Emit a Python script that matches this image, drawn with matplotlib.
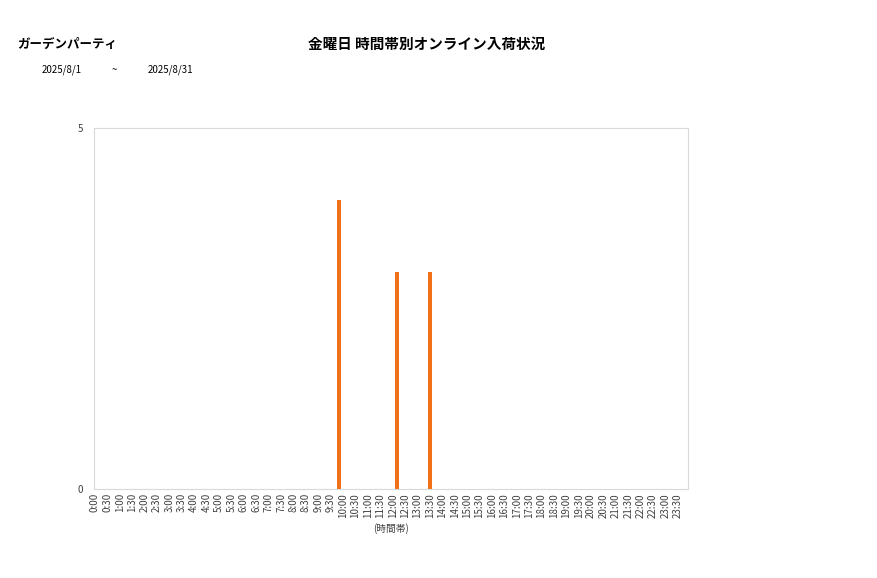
import matplotlib.pyplot as plt
import numpy as np

plt.rcParams['font.family'] = ['Noto Sans CJK JP', 'DejaVu Sans']

# tick labels every 30 minutes
slots = ["%d:%02d" % (h, m) for h in range(24) for m in (0, 30)]
# arrival times (hours) and counts
times = [9.84, 12.18, 13.52]
counts = [4, 3, 3]

shop = "ガーデンパーティ"
title = "金曜日 時間帯別オンライン入荷状況"
date_from, date_to = "2025/8/1", "2025/8/31"

fig = plt.figure(figsize=(8.77, 5.78), dpi=100)
ax = fig.add_axes([94 / 877, 1 - 489 / 578, (688 - 94) / 877, (489 - 128) / 578])

ax.bar(times, counts, width=0.16, color="#f07018")
ax.set_xlim(-0.04, 23.91)
ax.set_ylim(0, 5)
ax.set_yticks([0, 5])
ax.set_xticks(np.arange(len(slots)) * 0.5)
ax.set_xticklabels(slots, rotation=90, fontsize=7, color="#404040")
ax.tick_params(axis="y", labelsize=7, length=0, pad=8, colors="#404040")
ax.tick_params(axis="x", length=0, pad=3)
for s in ax.spines.values():
    s.set_color("#d9d9d9")
ax.set_xlabel("(時間帯)", fontsize=7, color="#404040", labelpad=4)

fig.text(17 / 877, 1 - 44 / 578, shop, fontsize=9, fontweight="bold", va="center")
fig.text(427 / 877, 1 - 44 / 578, title, fontsize=10.5, fontweight="bold", ha="center", va="center")
fig.text(42 / 877, 1 - 70 / 578, date_from, fontsize=7, va="center")
fig.text(112 / 877, 1 - 70 / 578, "~", fontsize=7, va="center")
fig.text(148 / 877, 1 - 70 / 578, date_to, fontsize=7, va="center")

fig.savefig("out.png", dpi=100)
